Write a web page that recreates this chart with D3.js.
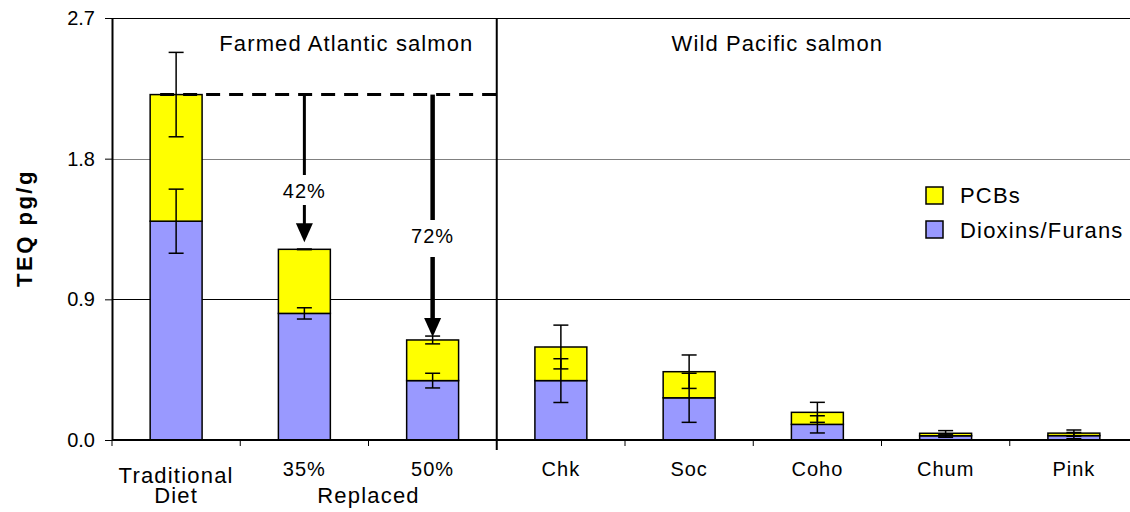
<!DOCTYPE html>
<html>
<head>
<meta charset="utf-8">
<script src="https://cdn.jsdelivr.net/npm/d3@7"></script>
<style>
  body { margin: 0; background: #fff; }
  svg text { font-family: "Liberation Sans", Arial, sans-serif; fill: #000; }
</style>
</head>
<body>
<div id="graph"></div>
<script>
// data
let categories = ['Traditional Diet', '35%', '50%', 'Chk', 'Soc', 'Coho', 'Chum', 'Pink']
let dioxins = [1.40, 0.81, 0.38, 0.38, 0.27, 0.10, 0.027, 0.028]
let pcbs = [0.81, 0.41, 0.26, 0.215, 0.167, 0.077, 0.016, 0.016]
let dioxinErr = [0.205, 0.036, 0.047, 0.14, 0.157, 0.055, 0.01, 0.02]
let totalErr = [0.27, 0.002, 0.025, 0.14, 0.107, 0.064, 0.017, 0.02]
let yTicks = [0.0, 0.9, 1.8, 2.7]
let groups = ['Farmed Atlantic salmon', 'Wild Pacific salmon']
let reductions = [{ from: 0, to: 1, label: '42%' }, { from: 0, to: 2, label: '72%' }]
let seriesNames = ['PCBs', 'Dioxins/Furans']
let colors = ['#ffff00', '#9999ff']

let width = 1130, height = 512

let svg = d3.select('#graph')
    .append('svg')
    .attr('width', width)
    .attr('height', height)

let x = d3.scaleBand()
    .domain(categories)
    .range([112, 1138])

let y = d3.scaleLinear()
    .domain([0, 2.7])
    .range([440, 18])

let totals = dioxins.map((d, i) => d + pcbs[i])
let barW = x.bandwidth() * 0.405
let divX = x('Chk')

// gridlines
svg.append('g')
    .selectAll('line')
    .data(yTicks.filter(d => d > 0))
    .join('line')
    .attr('x1', 112).attr('x2', width)
    .attr('y1', d => Math.round(y(d)) + 0.5).attr('y2', d => Math.round(y(d)) + 0.5)
    .attr('stroke', d => d == 1.8 ? '#808080' : '#000')
    .attr('stroke-width', 1)

// bars
let bars = svg.append('g')
bars.selectAll('rect.dio')
    .data(categories)
    .join('rect')
    .attr('class', 'dio')
    .attr('x', d => x(d) + (x.bandwidth() - barW) / 2)
    .attr('width', barW)
    .attr('y', (d, i) => y(dioxins[i]))
    .attr('height', (d, i) => y(0) - y(dioxins[i]))
    .attr('fill', colors[1])
    .attr('stroke', '#000')
    .attr('stroke-width', 1.5)

bars.selectAll('rect.pcb')
    .data(categories)
    .join('rect')
    .attr('class', 'pcb')
    .attr('x', d => x(d) + (x.bandwidth() - barW) / 2)
    .attr('width', barW)
    .attr('y', (d, i) => y(totals[i]))
    .attr('height', (d, i) => y(dioxins[i]) - y(totals[i]))
    .attr('fill', colors[0])
    .attr('stroke', '#000')
    .attr('stroke-width', 1.5)

// error bars
function errorBars(values, errs) {
    let g = svg.append('g')
        .attr('stroke', '#000')
        .attr('stroke-width', 1.5)
    categories.forEach((c, i) => {
        let cx = x(c) + x.bandwidth() / 2
        let top = y(values[i] + errs[i]), bot = y(Math.max(0, values[i] - errs[i]))
        g.append('line').attr('x1', cx).attr('x2', cx).attr('y1', top).attr('y2', bot)
        g.append('line').attr('x1', cx - 7.5).attr('x2', cx + 7.5).attr('y1', top).attr('y2', top)
        g.append('line').attr('x1', cx - 7.5).attr('x2', cx + 7.5).attr('y1', bot).attr('y2', bot)
    })
}
errorBars(dioxins, dioxinErr)
errorBars(totals, totalErr)

// y axis
let yAxis = svg.append('g')
    .attr('transform', 'translate(112,0)')
    .call(d3.axisLeft(y)
        .tickValues(yTicks)
        .tickFormat(d3.format('.1f'))
        .tickSize(7)
        .tickSizeOuter(0)
        .tickPadding(10))
yAxis.select('.domain').attr('stroke-width', 2)
yAxis.selectAll('.tick line').attr('stroke-width', 1)
yAxis.selectAll('text')
    .style('font-size', '20px')
    .style('font-family', '"Liberation Sans", Arial, sans-serif')

svg.append('text')
    .attr('transform', 'translate(32,228) rotate(-90)')
    .attr('text-anchor', 'middle')
    .style('font-size', '22px')
    .style('font-weight', 'bold')
    .style('letter-spacing', '2.5px')
    .text('TEQ pg/g')

// x axis
svg.append('line')
    .attr('x1', 112).attr('x2', width)
    .attr('y1', y(0)).attr('y2', y(0))
    .attr('stroke', '#000')
    .attr('stroke-width', 2)

svg.append('g')
    .selectAll('line')
    .data(categories.filter(c => c != 'Chk'))
    .join('line')
    .attr('x1', d => x(d)).attr('x2', d => x(d))
    .attr('y1', y(0)).attr('y2', y(0) + 6)
    .attr('stroke', '#000')
    .attr('stroke-width', 1)

// divider between farmed and wild
svg.append('line')
    .attr('x1', divX).attr('x2', divX)
    .attr('y1', y(2.7)).attr('y2', y(0) + 10)
    .attr('stroke', '#000')
    .attr('stroke-width', 2)

// category labels
categories.forEach((c, i) => {
    let cx = x(c) + x.bandwidth() / 2
    if (i == 0) {
        let t = svg.append('text')
            .attr('text-anchor', 'middle')
            .style('font-size', '22px')
            .style('letter-spacing', '1.2px')
        c.split(' ').forEach((w, j) => {
            t.append('tspan').attr('x', cx).attr('y', 483 + j * 20).text(w)
        })
    } else {
        svg.append('text')
            .attr('x', cx).attr('y', 476)
            .attr('text-anchor', 'middle')
            .style('font-size', '20px')
            .style('letter-spacing', '1px')
            .text(c)
    }
})
svg.append('text')
    .attr('x', (x('35%') + x('50%') + x.bandwidth()) / 2)
    .attr('y', 503)
    .attr('text-anchor', 'middle')
    .style('font-size', '22px')
    .style('letter-spacing', '1.2px')
    .text('Replaced')

// group titles
svg.append('text')
    .attr('x', (x('Traditional Diet') + divX) / 2 + 42)
    .attr('y', 51)
    .attr('text-anchor', 'middle')
    .style('font-size', '22px')
    .style('letter-spacing', '1.1px')
    .text(groups[0])
svg.append('text')
    .attr('x', (divX + x('Pink') + x.bandwidth()) / 2 - 40)
    .attr('y', 51)
    .attr('text-anchor', 'middle')
    .style('font-size', '22px')
    .style('letter-spacing', '1.1px')
    .text(groups[1])

// dashed reference at traditional total
svg.append('line')
    .attr('x1', x('Traditional Diet') + x.bandwidth() / 2 - 16)
    .attr('x2', divX)
    .attr('y1', y(totals[0])).attr('y2', y(totals[0]))
    .attr('stroke', '#000')
    .attr('stroke-width', 3)
    .attr('stroke-dasharray', '14,9')

// reduction arrows
let arrowStyle = [{ w: 3, labelY: 198, gapTop: 23, gapBot: 7, tipOff: 7 },
                  { w: 4.5, labelY: 243, gapTop: 23, gapBot: 14, tipOff: 3 }]
reductions.forEach((r, k) => {
    let s = arrowStyle[k]
    let cx = x(categories[r.to]) + x.bandwidth() / 2
    let y0 = y(totals[r.from])
    let tip = y(totals[r.to]) - s.tipOff
    let g = svg.append('g')
    g.append('line')
        .attr('x1', cx).attr('x2', cx)
        .attr('y1', y0).attr('y2', s.labelY - s.gapTop)
        .attr('stroke', '#000').attr('stroke-width', s.w)
    g.append('line')
        .attr('x1', cx).attr('x2', cx)
        .attr('y1', s.labelY + s.gapBot).attr('y2', tip - 16)
        .attr('stroke', '#000').attr('stroke-width', s.w)
    g.append('path')
        .attr('d', `M${cx - 8.5},${tip - 19}L${cx + 8.5},${tip - 19}L${cx},${tip}Z`)
        .attr('fill', '#000')
    g.append('text')
        .attr('x', cx).attr('y', s.labelY)
        .attr('text-anchor', 'middle')
        .style('font-size', '20px')
        .style('letter-spacing', '1px')
        .text(r.label)
})

// legend
let legend = svg.append('g')
seriesNames.forEach((n, i) => {
    legend.append('rect')
        .attr('x', 926).attr('y', 187 + i * 34)
        .attr('width', 17).attr('height', 17)
        .attr('fill', colors[i])
        .attr('stroke', '#000')
        .attr('stroke-width', 1.5)
    legend.append('text')
        .attr('x', 960).attr('y', 203 + i * 35)
        .style('font-size', '22px')
        .style('letter-spacing', '1.2px')
        .text(n)
})
</script>
</body>
</html>
